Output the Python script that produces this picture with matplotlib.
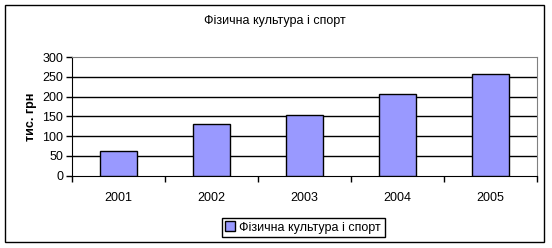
import matplotlib.pyplot as plt
from matplotlib.patches import Rectangle
import numpy as np

plt.rcParams['font.family'] = ['Liberation Sans', 'DejaVu Sans']

# дані
years = ['2001', '2002', '2003', '2004', '2005']
values = [63, 130, 153, 206, 257]
series_name = 'Фізична культура і спорт'

fig = plt.figure(figsize=(5.52, 2.48), dpi=100)
fig.patches.append(Rectangle((5/552, 1-242/248), 539/552, 237/248, transform=fig.transFigure,
                             fill=False, edgecolor='black', linewidth=1))

ax = fig.add_axes([71.7/552, 72.3/248, 465/552, 118.7/248])
x = np.arange(len(years))
ax.bar(x, values, width=0.4, color='#9999FF', edgecolor='black', linewidth=1,
       label=series_name, zorder=3)

ax.set_xlim(-0.5, len(years) - 0.5)
ax.set_ylim(0, 300)
ax.set_yticks(range(0, 301, 50))
ax.set_xticks(x)
ax.set_xticklabels(years)
ax.set_xticks(np.arange(-0.5, len(years), 1), minor=True)
ax.tick_params(axis='x', which='major', length=0, pad=12, labelsize=9)
ax.tick_params(axis='x', which='minor', length=4, direction='out', width=1)
ax.tick_params(axis='y', length=4, direction='out', width=1, labelsize=9, pad=2)

for v in range(50, 300, 50):
    ax.axhline(v, color='black', linewidth=1, zorder=1)

ax.spines['top'].set_color('#808080')
ax.spines['right'].set_color('#808080')
ax.set_ylabel('тис. грн', fontsize=9, fontweight='bold', labelpad=4)

fig.text(274.5/552, 1-21/248, series_name, ha='center', va='center', fontsize=9)

leg = fig.legend(loc='center', bbox_to_anchor=(303/552, 1-227.5/248), fontsize=9,
                 fancybox=False, edgecolor='black', handlelength=0.8, handleheight=0.8,
                 handletextpad=0.3, borderpad=0.3, framealpha=1)
leg.get_frame().set_linewidth(1)

plt.savefig('out.png', dpi=100)
